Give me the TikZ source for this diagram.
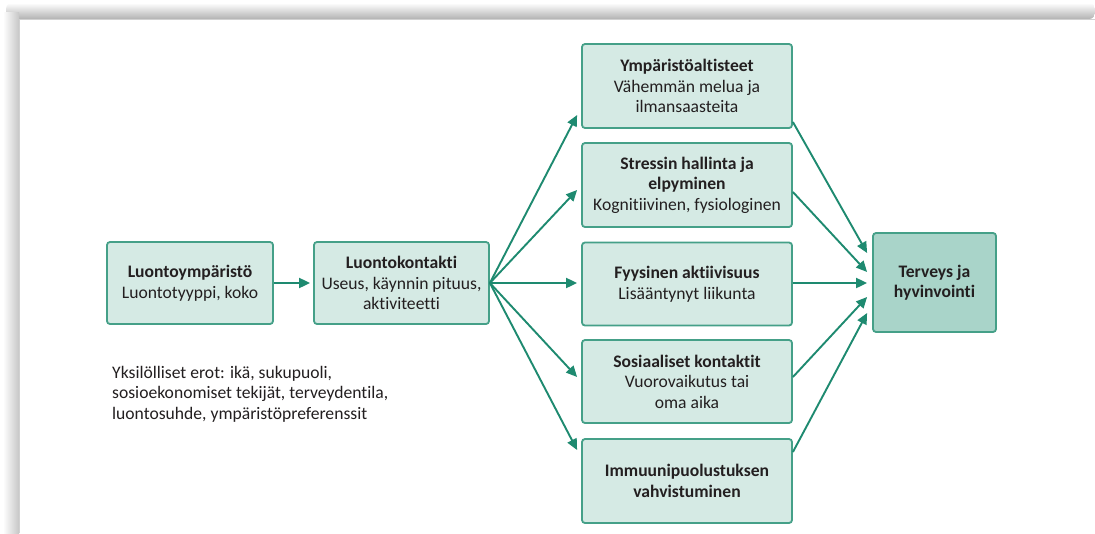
\documentclass[tikz,border=0pt]{standalone}
\usepackage{fontspec}
\setmainfont{Carlito}[Ligatures=NoCommon]
\usetikzlibrary{arrows.meta,calc}
\definecolor{teal1}{HTML}{1E8A70}
\definecolor{bord}{HTML}{45A088}
\definecolor{boxfill}{HTML}{D5EAE4}
\definecolor{darkfill}{HTML}{A9D4C9}
\definecolor{txt}{HTML}{231F20}
\tikzset{
  box/.style={draw=bord, line width=1.8pt, rounded corners=3pt, fill=boxfill,
    align=center, text=txt, inner sep=2pt, font=\fontsize{17.6}{20.5}\selectfont},
  conn/.style={draw=teal1, line width=1.9pt, -{Triangle[length=11pt,width=10pt]}},
}
\begin{document}
\begin{tikzpicture}[x=1pt,y=-1pt]
\useasboundingbox (0,0) rectangle (1095,533);
\fill[white] (0,0) rectangle (1095,533);
% picture frame shadow
\shade[top color=white, bottom color=black!30, rounded corners=6pt] (6,3) rectangle (1095,19);
\shade[left color=white, right color=black!22] (3,12) rectangle (19,533);
\fill[white] (19,19) rectangle (1095,533);
\draw[black!18, line width=0.8pt] (19,533) -- (19,19.4) -- (1095,19.4);

% nodes
\node[box, minimum width=166pt, minimum height=82pt] (L1) at (190,283)
  {\textbf{Luontoympäristö}\\Luontotyyppi, koko};
\node[box, minimum width=175pt, minimum height=82pt] (L2) at (401.5,283)
  {\textbf{Luontokontakti}\\Useus, käynnin pituus,\\aktiviteetti};
\node[box, minimum width=210pt, minimum height=84pt] (M1) at (687,86)
  {\textbf{Ympäristöaltisteet}\\Vähemmän melua ja\\ilmansaasteita};
\node[box, minimum width=210pt, minimum height=84pt] (M2) at (687,185)
  {\textbf{Stressin hallinta ja}\\\textbf{elpyminen}\\Kognitiivinen, fysiologinen};
\node[box, minimum width=210pt, minimum height=83pt] (M3) at (687,284)
  {\textbf{Fyysinen aktiivisuus}\\Lisääntynyt liikunta};
\node[box, minimum width=210pt, minimum height=83pt] (M4) at (687,381.5)
  {\textbf{Sosiaaliset kontaktit}\\Vuorovaikutus tai\\oma aika};
\node[box, minimum width=210pt, minimum height=84pt] (M5) at (687,481)
  {\textbf{Immuunipuolustuksen}\\\textbf{vahvistuminen}};
\node[box, fill=darkfill, minimum width=123pt, minimum height=99pt] (T) at (934.5,282.5)
  {\textbf{Terveys ja}\\\textbf{hyvinvointi}};
\node[anchor=north west, align=left, inner sep=0pt, text=txt,
  font=\fontsize{17.6}{20.5}\selectfont] (note) at (112,366)
  {Yksilölliset erot: ikä, sukupuoli,\\sosioekonomiset tekijät, terveydentila,\\luontosuhde, ympäristöpreferenssit};

% connectors
\draw[conn] (L1.east) -- ($(L2.west)+(-3,0)$);
\draw[conn] (L2.east) -- ($(M1.west)+(-4,29)$);
\draw[conn] (L2.east) -- ($(M2.west)+(-4,5)$);
\draw[conn] (L2.east) -- ($(M3.west)+(-4,-1)$);
\draw[conn] (L2.east) -- ($(M4.west)+(-4,-4.5)$);
\draw[conn] (L2.east) -- ($(M5.west)+(-4,-31)$);
\draw[conn] ($(M1.east)+(0,36)$) -- ($(T.west)+(-5,-29.5)$);
\draw[conn] ($(M2.east)+(0,7)$) -- ($(T.west)+(-5,-10.5)$);
\draw[conn] ($(M3.east)+(0,-1)$) -- ($(T.west)+(-5,0.5)$);
\draw[conn] ($(M4.east)+(0,-4.5)$) -- ($(T.west)+(-5,14.5)$);
\draw[conn] ($(M5.east)+(0,-29)$) -- ($(T.west)+(-5,30.5)$);
\end{tikzpicture}
\end{document}
